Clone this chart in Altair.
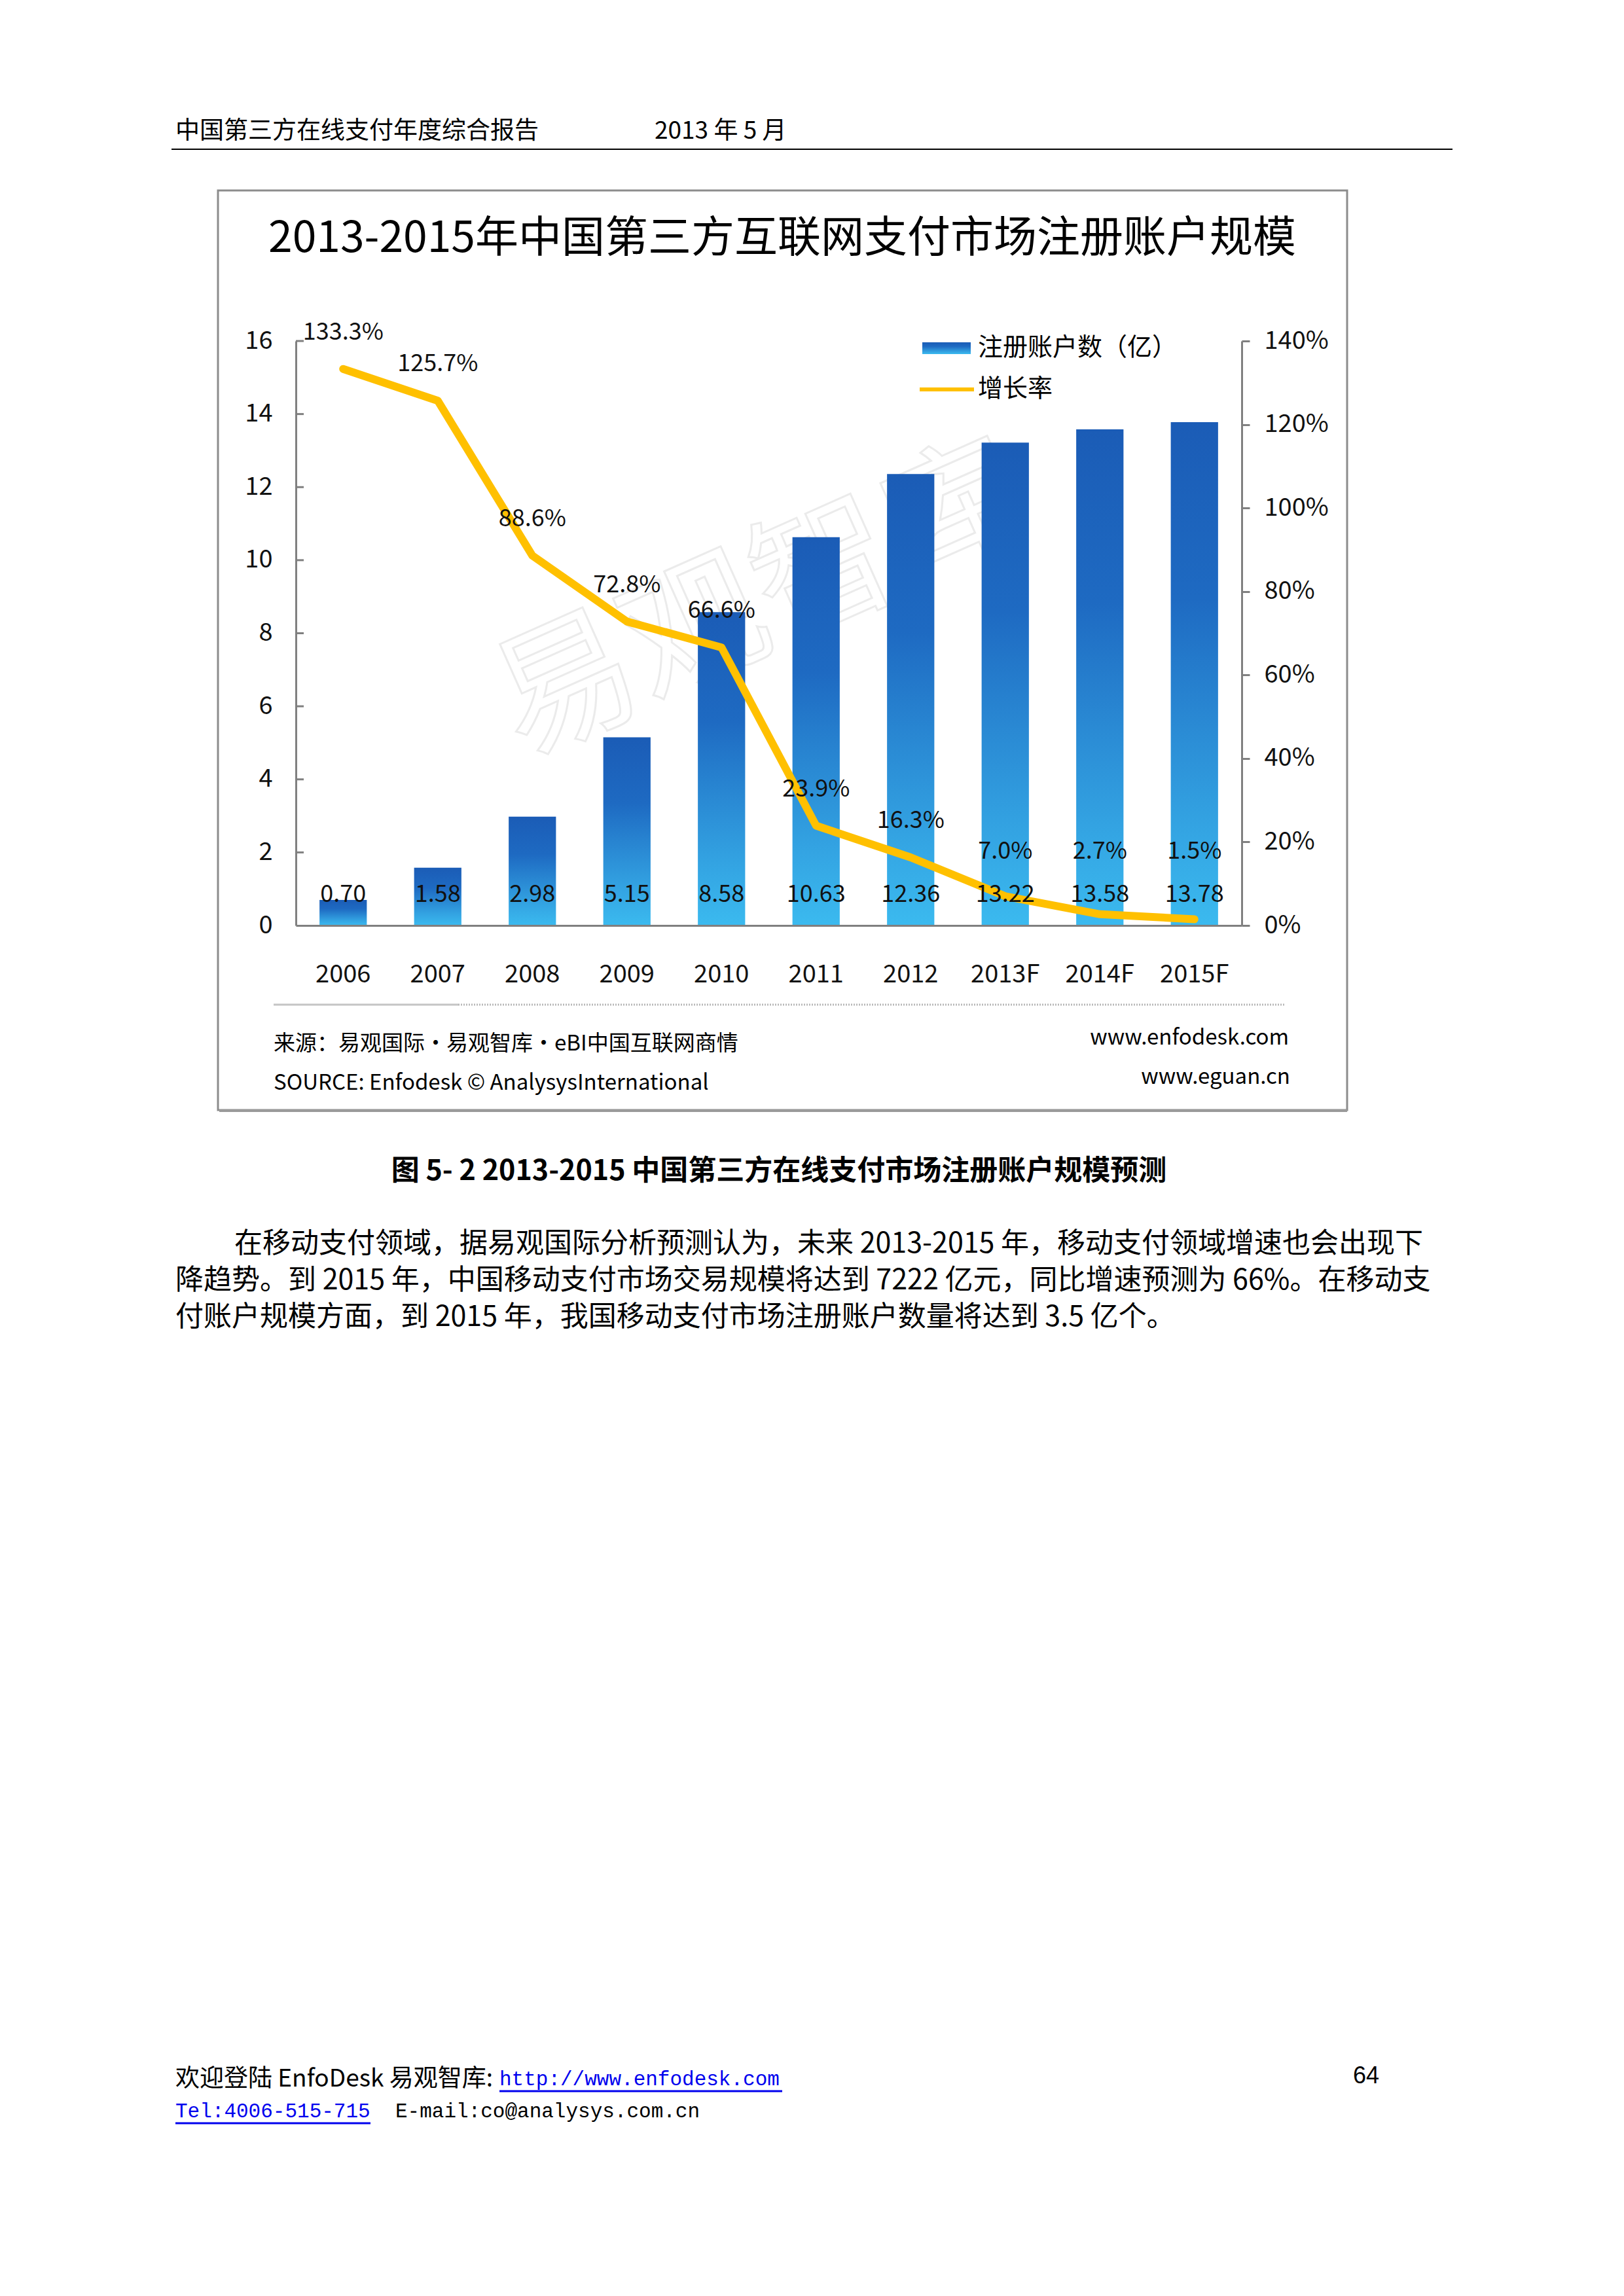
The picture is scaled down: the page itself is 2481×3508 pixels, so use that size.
import altair as alt
import pandas as pd

# ---------------- data ----------------
years = ["2006", "2007", "2008", "2009", "2010", "2011", "2012", "2013F", "2014F", "2015F"]
accounts = [0.70, 1.58, 2.98, 5.15, 8.58, 10.63, 12.36, 13.22, 13.58, 13.78]
growth = [1.333, 1.257, 0.886, 0.728, 0.666, 0.239, 0.163, 0.070, 0.027, 0.015]
left_ticks = [2, 4, 6, 8, 10, 12, 14, 16]
left_tick_labels = [0, 2, 4, 6, 8, 10, 12, 14, 16]
right_tick_labels = [0, 0.2, 0.4, 0.6, 0.8, 1.0, 1.2, 1.4]

title_text = "2013-2015年中国第三方互联网支付市场注册账户规模"
legend_bar = "注册账户数（亿）"
legend_line = "增长率"
caption = "图 5- 2 2013-2015 中国第三方在线支付市场注册账户规模预测"
body_lines = [
    "在移动支付领域，据易观国际分析预测认为，未来 2013-2015 年，移动支付领域增速也会出现下",
    "降趋势。到 2015 年，中国移动支付市场交易规模将达到 7222 亿元，同比增速预测为 66%。在移动支",
    "付账户规模方面，到 2015 年，我国移动支付市场注册账户数量将达到 3.5 亿个。",
]

SANS = "Noto Sans CJK SC"
MONO = "Liberation Mono"

# plot area placement on the page (page pixels)
OX, OY = 452, 521
PW, PH = 1445, 893

df = pd.DataFrame({"year": years, "accounts": accounts, "growth": growth})
one = pd.DataFrame({"k": [0]})

bar_grad = alt.Gradient(
    gradient="linear",
    stops=[
        alt.GradientStop(offset=0, color="#1B5CB6"),
        alt.GradientStop(offset=0.35, color="#1E6AC2"),
        alt.GradientStop(offset=0.8, color="#33A3E2"),
        alt.GradientStop(offset=1, color="#3BBAEF"),
    ],
    x1=0, x2=0, y1=0, y2=1,
)

xenc = alt.X(
    "year:N", sort=years, title=None,
    scale=alt.Scale(paddingInner=0.5, paddingOuter=0.25),
    axis=alt.Axis(labelAngle=0, ticks=False, labelPadding=56, labelFontSize=38,
                  labelFont=SANS, labelColor="#111111", domainColor="#808080",
                  domainWidth=3, zindex=1),
)

left_axis = alt.Axis(values=left_tick_labels, ticks=False, tickSize=0, labelPadding=36,
                     labelFontSize=38, labelFont=SANS, labelColor="#111111",
                     domainColor="#808080", domainWidth=3, grid=False, title=None, zindex=1)
right_axis = alt.Axis(values=right_tick_labels, format=".0%", orient="right", tickSize=12,
                      tickColor="#808080", tickWidth=3, labelPadding=22, labelFontSize=38,
                      labelFont=SANS, labelColor="#111111", domainColor="#808080",
                      domainWidth=3, grid=False, title=None, zindex=1)

yL_scale = alt.Scale(domain=[0, 16], nice=False)
yR_scale = alt.Scale(domain=[0, 1.4], nice=False)

bars = alt.Chart(df).mark_bar(color=bar_grad).encode(
    x=xenc, y=alt.Y("accounts:Q", scale=yL_scale, axis=left_axis)
)
inner_ticks = alt.Chart(pd.DataFrame({"t": left_ticks})).mark_rule(
    color="#808080", strokeWidth=3
).encode(y=alt.Y("t:Q", scale=yL_scale, axis=left_axis), x=alt.value(0), x2=alt.value(12))
bar_labels = alt.Chart(df).mark_text(
    fontSize=36, font=SANS, color="#111111", baseline="alphabetic"
).encode(x=xenc, y=alt.value(1378 - OY), text=alt.Text("accounts:Q", format=".2f"))

left_group = alt.layer(bars, inner_ticks)

line = alt.Chart(df).mark_line(
    color="#FFC000", strokeWidth=12, strokeJoin="round", strokeCap="round"
).encode(x=xenc, y=alt.Y("growth:Q", scale=yR_scale, axis=right_axis))
line_labels = alt.Chart(df).transform_calculate(
    ly="max(datum.growth, 0.09)"
).mark_text(fontSize=36, font=SANS, color="#111111", dy=-56).encode(
    x=xenc, y=alt.Y("ly:Q", scale=yR_scale, axis=right_axis),
    text=alt.Text("growth:Q", format=".1%"),
)
right_group = alt.layer(line, line_labels)

main = alt.layer(left_group, right_group).resolve_scale(y="independent")


def note(text, px, py, size, align="left", baseline="middle", font=SANS,
         color="#000000", weight="normal", **kw):
    return alt.Chart(one).mark_text(
        text=text, align=align, baseline=baseline, fontSize=size, font=font,
        color=color, fontWeight=weight, **kw
    ).encode(x=alt.value(px - OX), y=alt.value(py - OY))


def hline(x1, x2, y, color, width, dash=None):
    kw = dict(color=color, strokeWidth=width)
    if dash:
        kw["strokeDash"] = dash
    return alt.Chart(one).mark_rule(**kw).encode(
        x=alt.value(x1 - OX), x2=alt.value(x2 - OX), y=alt.value(y - OY)
    )


frame = alt.Chart(one).mark_rect(fill="transparent", stroke="#8c8c8c", strokeWidth=3).encode(
    x=alt.value(333 - OX), x2=alt.value(2058 - OX), y=alt.value(291 - OY), y2=alt.value(1696 - OY)
)
frame_shadow = hline(335, 2058, 1697, "#9a9a9a", 4)

watermark = alt.Chart(one).mark_text(
    text="易观智库", fontSize=215, font=SANS, angle=336, fill="transparent",
    stroke="#ebebeb", strokeWidth=3, align="center", baseline="middle"
).encode(x=alt.value(1163 - OX), y=alt.value(922 - OY))

legend_rect = alt.Chart(one).mark_rect(color=bar_grad).encode(
    x=alt.value(1409 - OX), x2=alt.value(1483 - OX), y=alt.value(523 - OY), y2=alt.value(541 - OY)
)

layers = [
    frame, frame_shadow, watermark,
    hline(262, 2219, 228, "#000000", 2),
    note("中国第三方在线支付年度综合报告", 268, 201, 37),
    note("2013 年 5 月", 1000, 201, 37),
    note(title_text, 1195, 365, 66, align="center"),
    main,
    bar_labels,
    legend_rect,
    note(legend_bar, 1494, 532, 38),
    hline(1405, 1488, 595, "#FFC000", 6),
    note(legend_line, 1494, 595, 38),
    hline(418, 700, 1535, "#c4c4c4", 3),
    hline(700, 1964, 1535, "#b8b8b8", 3, dash=[2, 2]),
    note("来源：易观国际·易观智库·eBI中国互联网商情", 418, 1595, 33),
    note("SOURCE: Enfodesk © AnalysysInternational", 418, 1655, 33),
    note("www.enfodesk.com", 1969, 1586, 33, align="right"),
    note("www.eguan.cn", 1971, 1646, 33, align="right"),
    note(caption, 1190, 1790, 43, align="center", weight="bold"),
    note(body_lines[0], 358, 1901, 43),
    note(body_lines[1], 268, 1957, 43),
    note(body_lines[2], 268, 2013, 43),
    note("欢迎登陆 EnfoDesk 易观智库:", 268, 3177, 37),
    note("http://www.enfodesk.com", 763, 3177, 31, font=MONO, color="#0000EE"),
    hline(763, 1195, 3195, "#0000EE", 3),
    note("Tel:4006-515-715", 268, 3226, 31, font=MONO, color="#0000EE"),
    hline(268, 566, 3244, "#0000EE", 3),
    note("E-mail:co@analysys.com.cn", 604, 3226, 31, font=MONO),
    note("64", 2087, 3172, 36, align="center", font="Liberation Sans"),
]

chart = alt.layer(*layers).properties(
    width=PW, height=PH,
    autosize=alt.AutoSizeParams(type="none"),
    padding={"left": OX - 8, "top": OY - 8, "right": 2465 - (OX - 8) - PW,
             "bottom": 3490 - (OY - 8) - PH},
    background="white",
).configure_view(stroke=None)

chart.save("out.html", embed_options={"renderer": "svg", "actions": False})
